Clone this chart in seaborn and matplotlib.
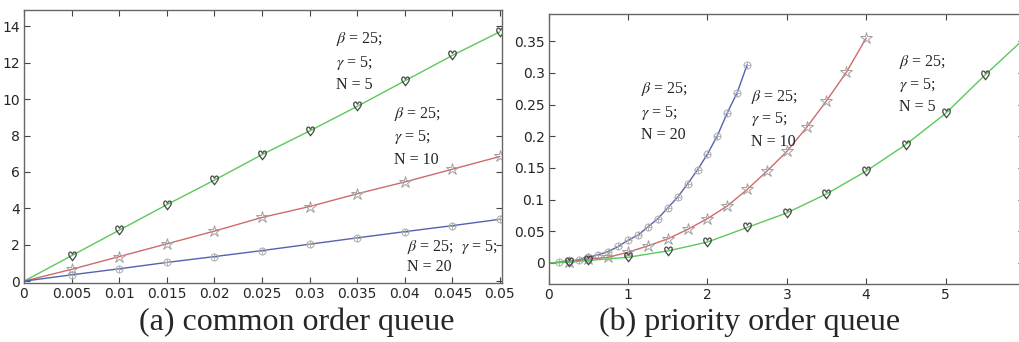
import matplotlib
matplotlib.use("Agg")
import matplotlib.pyplot as plt
import seaborn as sns
from matplotlib.ticker import FuncFormatter

# (a) common order queue
common_x = [0, 0.005, 0.01, 0.015, 0.02, 0.025, 0.03, 0.035, 0.04, 0.045, 0.05]
common_n5 = [0, 1.4, 2.8, 4.2, 5.55, 6.95, 8.25, 9.6, 11.0, 12.4, 13.7]
common_n10 = [0, 0.65, 1.35, 2.05, 2.75, 3.5, 4.1, 4.8, 5.45, 6.15, 6.85]
common_n20 = [0, 0.35, 0.68, 1.03, 1.35, 1.68, 2.03, 2.38, 2.72, 3.05, 3.4]

# (b) priority order queue
prio_x20 = [0, 0.125, 0.25, 0.375, 0.5, 0.625, 0.75, 0.875, 1.0, 1.125, 1.25,
            1.375, 1.5, 1.625, 1.75, 1.875, 2.0, 2.125, 2.25, 2.375, 2.5]
prio_n20 = [0, 0.001, 0.003, 0.005, 0.009, 0.013, 0.018, 0.026, 0.036, 0.044, 0.057,
            0.070, 0.087, 0.104, 0.125, 0.147, 0.172, 0.201, 0.237, 0.269, 0.313]
prio_x10 = [0, 0.25, 0.5, 0.75, 1.0, 1.25, 1.5, 1.75, 2.0, 2.25, 2.5, 2.75, 3.0,
            3.25, 3.5, 3.75, 4.0]
prio_n10 = [0, 0.002, 0.006, 0.009, 0.017, 0.027, 0.038, 0.053, 0.070, 0.090, 0.116,
            0.145, 0.176, 0.214, 0.256, 0.301, 0.355]
prio_x5 = [0, 0.25, 0.5, 1.0, 1.5, 2.0, 2.5, 3.0, 3.5, 4.0, 4.5, 5.0, 5.5, 6.0]
prio_n5 = [0, 0.001, 0.004, 0.009, 0.019, 0.033, 0.056, 0.079, 0.109, 0.145, 0.187,
           0.236, 0.297, 0.355]

captions = ["(a) common order queue", "(b) priority order queue"]

sns.set_style("ticks")
plt.rcParams['font.family'] = ['Liberation Sans Narrow', 'DejaVu Sans']
plt.rcParams['mathtext.fontset'] = 'stix'

GREEN = "#5cc85c"
RED = "#d06a6a"
BLUE = "#5561b0"

fig = plt.figure(figsize=(10.2, 3.42), dpi=100)
ax1 = fig.add_axes([0.0235, 0.1725, 0.4685, 0.7985])
ax2 = fig.add_axes([0.538, 0.170, 0.466, 0.789])


def draw(ax, x, y, color, marker, mfc, mec, ms, mew, every):
    sns.lineplot(x=x, y=y, ax=ax, color=color, lw=1.0, marker=marker,
                 markevery=every, mfc=mfc, mec=mec, ms=ms, mew=mew)


heart = r'$\heartsuit$'
star = '*'
oplus = r'$\oplus$'

draw(ax1, common_x, common_n5, GREEN, heart, "#3a3a3a", "#3a3a3a", 7, 0.2, slice(1, None))
draw(ax1, common_x, common_n10, RED, star, "none", "#a0a0a0", 9, 0.7, slice(1, None))
draw(ax1, common_x, common_n20, BLUE, oplus, "#aaaaaa", "#aaaaaa", 5.5, 0.2, slice(1, None))

draw(ax2, prio_x20, prio_n20, BLUE, oplus, "#aaaaaa", "#aaaaaa", 5.5, 0.2, slice(1, None))
draw(ax2, prio_x10, prio_n10, RED, star, "none", "#a0a0a0", 9, 0.7, slice(1, None))
draw(ax2, prio_x5, prio_n5, GREEN, heart, "#3a3a3a", "#3a3a3a", 7, 0.2, slice(1, 13))

fmt = FuncFormatter(lambda v, p: f"{v:g}")
for ax in (ax1, ax2):
    ax.tick_params(direction="in", top=True, right=True, length=4, width=0.8,
                   labelsize=10, color="#444444", pad=3)
    for s in ax.spines.values():
        s.set_color("#666666")
        s.set_linewidth(1.0)
    ax.xaxis.set_major_formatter(fmt)
    ax.yaxis.set_major_formatter(fmt)
    ax.set_xlabel("")
    ax.set_ylabel("")

ax1.set_xlim(0, 0.0502)
ax1.set_ylim(-0.1, 14.9)
ax1.set_xticks(common_x)
ax1.set_yticks([0, 2, 4, 6, 8, 10, 12, 14])

ax2.set_xlim(0, 5.99)
ax2.set_ylim(-0.033, 0.393)
ax2.set_xticks([0, 1, 2, 3, 4, 5])
ax2.set_yticks([0, 0.05, 0.1, 0.15, 0.2, 0.25, 0.3, 0.35])

serif = ['Liberation Serif', 'DejaVu Serif']
tk = dict(fontsize=11.5, family=serif, va="center", ha="left")


def note(ax, x, ys, lines):
    for yy, t in zip(ys, lines):
        ax.text(x, yy, t, **tk)


note(ax1, 0.0328, [13.3, 12.0, 10.75], [r"$\beta$ = 25;", r"$\gamma$ = 5;", "N = 5"])
note(ax1, 0.0389, [9.2, 7.9, 6.65], [r"$\beta$ = 25;", r"$\gamma$ = 5;", "N = 10"])
note(ax1, 0.0402, [1.87, 0.77], [r"$\beta$ = 25;  $\gamma$ = 5;", "N = 20"])

note(ax2, 1.16, [0.274, 0.237, 0.202], [r"$\beta$ = 25;", r"$\gamma$ = 5;", "N = 20"])
note(ax2, 2.55, [0.262, 0.227, 0.191], [r"$\beta$ = 25;", r"$\gamma$ = 5;", "N = 10"])
note(ax2, 4.42, [0.317, 0.281, 0.246], [r"$\beta$ = 25;", r"$\gamma$ = 5;", "N = 5"])

fig.text(297 / 1020, 1 - 322 / 342, captions[0], fontsize=23, family=serif,
         ha="center", va="center")
fig.text(750 / 1020, 1 - 322 / 342, captions[1], fontsize=23, family=serif,
         ha="center", va="center")

fig.savefig("out.png", dpi=100)
